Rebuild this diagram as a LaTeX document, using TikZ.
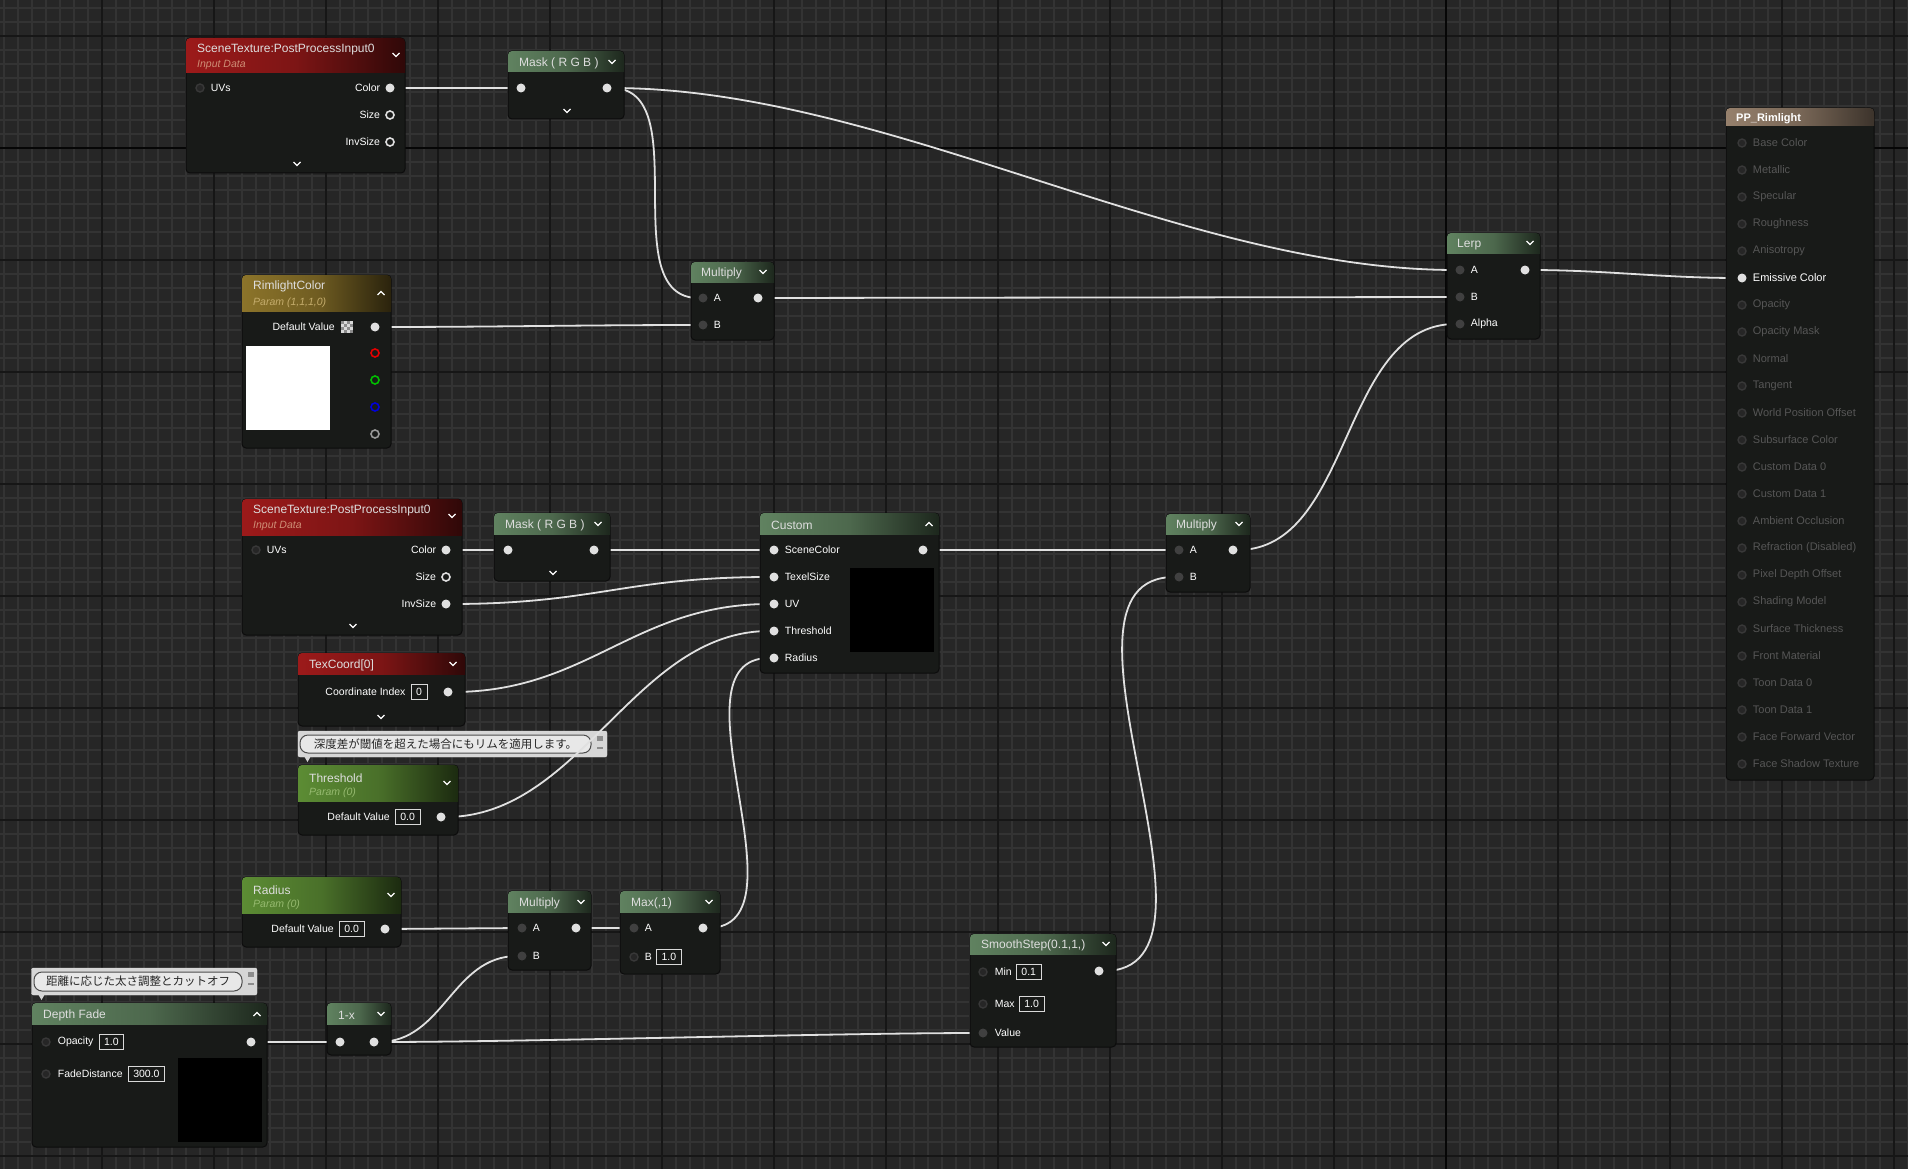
\documentclass[tikz,border=0pt]{standalone}
\usepackage{fontspec}
\setmainfont{Liberation Sans}
\newfontfamily\jpfont{Noto Sans CJK JP}
\usetikzlibrary{positioning}

\definecolor{bgcol}{RGB}{38,38,38}
\definecolor{minorcol}{RGB}{51,51,51}
\definecolor{majorcol}{RGB}{22,22,22}
\definecolor{axiscol}{RGB}{6,6,6}
\definecolor{bodycol}{RGB}{24,26,24}
\definecolor{edgecol}{RGB}{12,12,12}
\definecolor{wirecol}{RGB}{224,224,224}
\definecolor{redhead}{RGB}{156,26,26}
\definecolor{greenhead}{RGB}{96,130,96}
\definecolor{paramhead}{RGB}{92,140,52}
\definecolor{goldhead}{RGB}{140,116,42}
\definecolor{tanhead}{RGB}{150,128,108}
\definecolor{dimsock}{RGB}{64,64,64}
\definecolor{holesock}{RGB}{56,56,56}
\definecolor{ppgray}{RGB}{86,86,86}
\definecolor{titlecol}{RGB}{222,222,222}
\definecolor{inputcol}{RGB}{206,142,118}
\definecolor{goldsub}{RGB}{196,172,108}
\definecolor{greensub}{RGB}{150,186,112}
\definecolor{bubblecol}{RGB}{214,214,214}
\definecolor{pillcol}{RGB}{232,232,232}

\pgfdeclarelayer{grid}
\pgfdeclarelayer{notes}
\pgfdeclarelayer{wires}
\pgfsetlayers{grid,notes,wires,main}

% material node: name, x, y, width, height, header height, header colour
\newcommand{\uenode}[7]{%
  \node[nodebody, minimum width=#4pt, minimum height=#5pt] (#1) at ({#2+#4/2},{#3+#5/2}) {};
  \shade[left color=#7, right color=#7!30!black, middle color=#7!80!black, rounded corners=4pt] (#2,#3) rectangle ({#2+#4},{#3+#6});
  \shade[left color=#7, right color=#7!30!black, middle color=#7!80!black] (#2,{#3+#6/2}) rectangle ({#2+#4},{#3+#6});
}
\newcommand{\chevdown}[2]{\draw[chev] ({#1-3.5},{#2-2}) -- (#1,{#2+1.5}) -- ({#1+3.5},{#2-2});}
\newcommand{\chevup}[2]{\draw[chev] ({#1-3.5},{#2+2}) -- (#1,{#2-1.5}) -- ({#1+3.5},{#2+2});}

\begin{document}
\begin{tikzpicture}[x=1pt, y=-1pt,
    nodebody/.style={draw=edgecol, line width=1pt, fill=bodycol, rounded corners=4pt, inner sep=0pt},
    titletxt/.style={anchor=west, text=titlecol, font=\fontsize{12}{14}\selectfont, inner sep=0pt, yshift=-1.8pt},
    subtxt/.style={anchor=west, font=\fontsize{10.5}{12}\selectfont\itshape, inner sep=0pt, yshift=-1.8pt},
    rowtxt/.style={text=white, font=\fontsize{10.5}{12}\selectfont, inner sep=0pt},
    pptxt/.style={text=ppgray, font=\fontsize{11}{13}\selectfont, inner sep=0pt},
    sock/.style={circle, inner sep=0pt, minimum size=9pt},
    sockon/.style={sock, fill=wirecol},
    sockoff/.style={sock, draw=wirecol, line width=1.6pt, minimum size=8pt},
    sockdim/.style={sock, fill=dimsock},
    sockhole/.style={sock, draw=holesock, fill=black!85, line width=1.4pt, minimum size=8pt},
    valbox/.style={draw=white!85!black, line width=0.8pt, inner xsep=5pt, inner ysep=0pt, minimum height=15pt, text=white, font=\fontsize{10.5}{12}\selectfont},
    preview/.style={fill=black},
    chev/.style={draw=white, line width=1.2pt},
    wire/.style={draw=wirecol, line width=1.8pt},
    minorline/.style={draw=minorcol, line width=1.6pt},
    majorline/.style={draw=majorcol, line width=2pt},
    axisline/.style={draw=axiscol, line width=2.6pt},
    bubble/.style={fill=bubblecol, draw=white!90!black, rounded corners=2pt, inner sep=0pt},
    pill/.style={fill=pillcol, draw=black!70, line width=1pt, rounded corners=8pt, inner sep=0pt, text=black!85, font=\fontsize{11.5}{13}\jpfont}
]
\useasboundingbox (0,0) rectangle (1908,1169);

% grid
\begin{pgfonlayer}{grid}
\fill[bgcol] (0,0) rectangle (1908,1169);
\foreach \gx in {4,18,...,1908} \draw[minorline] (\gx,0) -- (\gx,1169);
\foreach \gy in {8,22,...,1169} \draw[minorline] (0,\gy) -- (1908,\gy);
\foreach \gx in {102,214,...,1908} \draw[majorline] (\gx,0) -- (\gx,1169);
\foreach \gy in {36,148,...,1169} \draw[majorline] (0,\gy) -- (1908,\gy);
\draw[axisline] (1446,0) -- (1446,1169);
\draw[axisline] (0,148) -- (1908,148);
\end{pgfonlayer}

% comments
\begin{pgfonlayer}{notes}
\node[bubble, minimum width=309pt, minimum height=26pt] (note1) at (452.5,744) {};
\node[pill, minimum width=291pt, minimum height=18pt] (note1-text) at (445.5,744) {深度差が閾値を超えた場合にもリムを適用します。};
\fill[bubblecol] (304,756) -- (311,756) -- (307.5,762) -- cycle;
\fill[black!45] (597,736) rectangle (603,741);
\fill[black!45] (597,747) rectangle (603,749);
\node[bubble, minimum width=225.5pt, minimum height=27pt] (note2) at (144.25,981.5) {};
\node[pill, minimum width=208pt, minimum height=19pt] (note2-text) at (138,981.5) {距離に応じた太さ調整とカットオフ};
\fill[bubblecol] (38,994) -- (45,994) -- (41.5,1000) -- cycle;
\fill[black!45] (248,972) rectangle (254,977);
\fill[black!45] (248,983) rectangle (254,985);
\end{pgfonlayer}

% top scene texture
\uenode{st1}{186}{38}{219}{135}{35}{redhead}
\node[titletxt] (st1-title) at (197,48) {SceneTexture:PostProcessInput0};
\node[subtxt, text=inputcol] (st1-sub) at (197,63) {Input Data};
\chevdown{396}{55}
\node[sockhole] (st1-uvs) at (200,88) {};
\node[rowtxt, right=6pt of st1-uvs] (st1-uvs-txt) {UVs};
\node[sockon] (st1-color) at (390,88) {};
\node[rowtxt, left=5pt of st1-color] (st1-color-txt) {Color};
\node[sockoff] (st1-size) at (390,115) {};
\node[rowtxt, left=5pt of st1-size] (st1-size-txt) {Size};
\node[sockoff] (st1-invsize) at (390,142) {};
\node[rowtxt, left=5pt of st1-invsize] (st1-invsize-txt) {InvSize};
\chevdown{297}{164}

% top mask
\uenode{mask1}{508}{51}{116}{68}{21}{greenhead}
\node[titletxt] (mask1-title) at (519,62) {Mask ( R G B )};
\chevdown{612}{62}
\node[sockon] (mask1-in) at (521,88) {};
\node[sockon] (mask1-out) at (607,88) {};
\chevdown{567}{111}

% rimlight colour
\uenode{rim}{242}{275}{149}{173}{36}{goldhead}
\node[titletxt] (rim-title) at (253,285) {RimlightColor};
\node[subtxt, text=goldsub] (rim-sub) at (253,301) {Param (1,1,1,0)};
\chevup{381}{293}
\node[sockon] (rim-out) at (375,327) {};
\node[rowtxt, anchor=east] (rim-txt) at (335,327) {Default Value};
\fill[white!85!black] (341,321) rectangle (353,333);
\foreach \cx/\cy in {0/0,2/0,1/1,3/1,0/2,2/2,1/3,3/3}
  \fill[black!45] ({341+3*\cx},{321+3*\cy}) rectangle ++(3,3);
\fill[white] (246,346) rectangle (330,430);
\node[sockoff, draw=red!90!black] (rim-r) at (375,353) {};
\node[sockoff, draw=green!75!black] (rim-g) at (375,380) {};
\node[sockoff, draw=blue!85!black] (rim-b) at (375,407) {};
\node[sockoff, draw=black!40] (rim-a) at (375,434) {};

% multiply rimlight
\uenode{mul1}{691}{262}{83}{78}{20}{greenhead}
\node[titletxt] (mul1-title) at (701,272) {Multiply};
\chevdown{763}{272}
\node[sockdim] (mul1-a) at (703,298) {};
\node[rowtxt, right=6pt of mul1-a] (mul1-a-txt) {A};
\node[sockdim] (mul1-b) at (703,325) {};
\node[rowtxt, right=6pt of mul1-b] (mul1-b-txt) {B};
\node[sockon] (mul1-out) at (758,298) {};

% lerp
\uenode{lerp}{1447}{233}{93}{106}{20}{greenhead}
\node[titletxt] (lerp-title) at (1457,243) {Lerp};
\chevdown{1530}{243}
\node[sockdim] (lerp-a) at (1460,270) {};
\node[rowtxt, right=6pt of lerp-a] (lerp-a-txt) {A};
\node[sockdim] (lerp-b) at (1460,297) {};
\node[rowtxt, right=6pt of lerp-b] (lerp-b-txt) {B};
\node[sockdim] (lerp-alpha) at (1460,324) {};
\node[rowtxt, right=6pt of lerp-alpha] (lerp-alpha-txt) {Alpha};
\node[sockon] (lerp-out) at (1525,270) {};

% material output
\node[nodebody, minimum width=148pt, minimum height=672pt] (pp) at (1800,444) {};
\shade[left color=tanhead, right color=tanhead!40!black, middle color=tanhead!80!black, rounded corners=4pt] (1726,108) rectangle (1874,126);
\shade[left color=tanhead, right color=tanhead!40!black, middle color=tanhead!80!black] (1726,117) rectangle (1874,126);
\node[titletxt, text=white, font=\fontsize{11}{13}\selectfont\bfseries] (pp-title) at (1736,117) {PP\_Rimlight};
\foreach \lbl [count=\i from 0] in {Base Color,Metallic,Specular,Roughness,Anisotropy,Emissive Color,Opacity,Opacity Mask,Normal,Tangent,World Position Offset,Subsurface Color,Custom Data 0,Custom Data 1,Ambient Occlusion,Refraction (Disabled),Pixel Depth Offset,Shading Model,Surface Thickness,Front Material,Toon Data 0,Toon Data 1,Face Forward Vector,Face Shadow Texture}{
  \ifnum\i=5
    \node[sockon] (pp-\i) at (1742,{143+27*\i}) {};
    \node[pptxt, text=white, right=6pt of pp-\i] (pp-\i-txt) {\lbl};
  \else
    \node[sockhole] (pp-\i) at (1742,{143+27*\i}) {};
    \node[pptxt, right=6pt of pp-\i] (pp-\i-txt) {\lbl};
  \fi
}

% lower scene texture
\uenode{st2}{242}{499}{220}{136}{36}{redhead}
\node[titletxt] (st2-title) at (253,509) {SceneTexture:PostProcessInput0};
\node[subtxt, text=inputcol] (st2-sub) at (253,524) {Input Data};
\chevdown{452}{516}
\node[sockhole] (st2-uvs) at (256,550) {};
\node[rowtxt, right=6pt of st2-uvs] (st2-uvs-txt) {UVs};
\node[sockon] (st2-color) at (446,550) {};
\node[rowtxt, left=5pt of st2-color] (st2-color-txt) {Color};
\node[sockoff] (st2-size) at (446,577) {};
\node[rowtxt, left=5pt of st2-size] (st2-size-txt) {Size};
\node[sockon] (st2-invsize) at (446,604) {};
\node[rowtxt, left=5pt of st2-invsize] (st2-invsize-txt) {InvSize};
\chevdown{353}{626}

% lower mask
\uenode{mask2}{494}{513}{116}{68}{21}{greenhead}
\node[titletxt] (mask2-title) at (505,524) {Mask ( R G B )};
\chevdown{598}{524}
\node[sockon] (mask2-in) at (508,550) {};
\node[sockon] (mask2-out) at (594,550) {};
\chevdown{553}{573}

% custom
\uenode{cus}{760}{513}{179}{160}{21}{greenhead}
\node[titletxt] (cus-title) at (771,524) {Custom};
\chevup{929}{524}
\node[sockon] (cus-scene) at (774,550) {};
\node[rowtxt, right=6pt of cus-scene] (cus-scene-txt) {SceneColor};
\node[sockon] (cus-texel) at (774,577) {};
\node[rowtxt, right=6pt of cus-texel] (cus-texel-txt) {TexelSize};
\node[sockon] (cus-uv) at (774,604) {};
\node[rowtxt, right=6pt of cus-uv] (cus-uv-txt) {UV};
\node[sockon] (cus-thr) at (774,631) {};
\node[rowtxt, right=6pt of cus-thr] (cus-thr-txt) {Threshold};
\node[sockon] (cus-rad) at (774,658) {};
\node[rowtxt, right=6pt of cus-rad] (cus-rad-txt) {Radius};
\node[sockon] (cus-out) at (923,550) {};
\fill[preview] (850,568) rectangle (934,652);

% texcoord
\uenode{tc}{298}{653}{167}{73}{21}{redhead}
\node[titletxt] (tc-title) at (309,664) {TexCoord[0]};
\chevdown{453}{664}
\node[sockon] (tc-out) at (448,692) {};
\node[valbox, left=16pt of tc-out] (tc-val) {0};
\node[rowtxt, left=5pt of tc-val] (tc-txt) {Coordinate Index};
\chevdown{381}{717}

% threshold
\uenode{thr}{298}{765}{160}{70}{36}{paramhead}
\node[titletxt] (thr-title) at (309,776) {Threshold};
\node[subtxt, text=greensub] (thr-sub) at (309,791) {Param (0)};
\chevdown{447}{783}
\node[sockon] (thr-out) at (441,817) {};
\node[valbox, left=16pt of thr-out] (thr-val) {0.0};
\node[rowtxt, left=5pt of thr-val] (thr-txt) {Default Value};

% multiply depth
\uenode{mul3}{1166}{514}{84}{78}{20}{greenhead}
\node[titletxt] (mul3-title) at (1176,524) {Multiply};
\chevdown{1239}{524}
\node[sockdim] (mul3-a) at (1179,550) {};
\node[rowtxt, right=6pt of mul3-a] (mul3-a-txt) {A};
\node[sockdim] (mul3-b) at (1179,577) {};
\node[rowtxt, right=6pt of mul3-b] (mul3-b-txt) {B};
\node[sockon] (mul3-out) at (1233,550) {};

% radius
\uenode{rad}{242}{877}{159}{70}{36}{paramhead}
\node[titletxt] (rad-title) at (253,888) {Radius};
\node[subtxt, text=greensub] (rad-sub) at (253,903) {Param (0)};
\chevdown{391}{895}
\node[sockon] (rad-out) at (385,929) {};
\node[valbox, left=16pt of rad-out] (rad-val) {0.0};
\node[rowtxt, left=5pt of rad-val] (rad-txt) {Default Value};

% multiply radius
\uenode{mul2}{508}{891}{83}{79}{21}{greenhead}
\node[titletxt] (mul2-title) at (519,902) {Multiply};
\chevdown{581}{902}
\node[sockdim] (mul2-a) at (522,928) {};
\node[rowtxt, right=6pt of mul2-a] (mul2-a-txt) {A};
\node[sockdim] (mul2-b) at (522,956) {};
\node[rowtxt, right=6pt of mul2-b] (mul2-b-txt) {B};
\node[sockon] (mul2-out) at (576,928) {};

% max
\uenode{max}{620}{891}{100}{83}{21}{greenhead}
\node[titletxt] (max-title) at (631,902) {Max(,1)};
\chevdown{709}{902}
\node[sockdim] (max-a) at (634,928) {};
\node[rowtxt, right=6pt of max-a] (max-a-txt) {A};
\node[sockhole] (max-b) at (634,957) {};
\node[rowtxt, right=6pt of max-b] (max-b-txt) {B};
\node[valbox, right=4pt of max-b-txt] (max-b-val) {1.0};
\node[sockon] (max-out) at (703,928) {};

% depth fade
\uenode{df}{32}{1003}{235}{144}{21}{greenhead}
\node[titletxt] (df-title) at (43,1014) {Depth Fade};
\chevup{257}{1014}
\node[sockhole] (df-op) at (46,1042) {};
\node[rowtxt, right=7pt of df-op] (df-op-txt) {Opacity};
\node[valbox, right=5pt of df-op-txt] (df-op-val) {1.0};
\node[sockhole] (df-fd) at (46,1074) {};
\node[rowtxt, right=7pt of df-fd] (df-fd-txt) {FadeDistance};
\node[valbox, right=5pt of df-fd-txt] (df-fd-val) {300.0};
\node[sockon] (df-out) at (251,1042) {};
\fill[preview] (178,1058) rectangle (262,1142);

% one minus
\uenode{onex}{327}{1003}{64}{52}{21}{greenhead}
\node[titletxt] (onex-title) at (338,1014) {1-x};
\chevdown{381}{1014}
\node[sockon] (onex-in) at (340,1042) {};
\node[sockon] (onex-out) at (374,1042) {};

% smoothstep
\uenode{ss}{970}{934}{146}{113}{20}{greenhead}
\node[titletxt] (ss-title) at (981,944) {SmoothStep(0.1,1,)};
\chevdown{1106}{944}
\node[sockhole] (ss-min) at (983,972) {};
\node[rowtxt, right=7pt of ss-min] (ss-min-txt) {Min};
\node[valbox, right=4pt of ss-min-txt] (ss-min-val) {0.1};
\node[sockhole] (ss-max) at (983,1004) {};
\node[rowtxt, right=7pt of ss-max] (ss-max-txt) {Max};
\node[valbox, right=4pt of ss-max-txt] (ss-max-val) {1.0};
\node[sockdim] (ss-value) at (983,1033) {};
\node[rowtxt, right=7pt of ss-value] (ss-value-txt) {Value};
\node[sockon] (ss-out) at (1099,971) {};

% wires
\begin{pgfonlayer}{wires}
\draw[wire] (st1-color) -- (mask1-in);
\draw[wire] (mask1-out) .. controls +(280,0) and +(-280,0) .. (lerp-a);
\draw[wire] (mask1-out) .. controls +(90,0) and +(-90,0) .. (mul1-a);
\draw[wire] (rim-out) .. controls +(120,0) and +(-120,0) .. (mul1-b);
\draw[wire] (mul1-out) -- (lerp-b);
\draw[wire] (lerp-out) .. controls +(80,0) and +(-80,0) .. (pp-5);
\draw[wire] (st2-color) -- (mask2-in);
\draw[wire] (mask2-out) -- (cus-scene);
\draw[wire] (st2-invsize) .. controls +(150,0) and +(-150,0) .. (cus-texel);
\draw[wire] (tc-out) .. controls +(140,0) and +(-140,0) .. (cus-uv);
\draw[wire] (thr-out) .. controls +(140,0) and +(-140,0) .. (cus-thr);
\draw[wire] (max-out) .. controls +(110,0) and +(-110,0) .. (cus-rad);
\draw[wire] (cus-out) -- (mul3-a);
\draw[wire] (ss-out) .. controls +(150,0) and +(-150,0) .. (mul3-b);
\draw[wire] (mul3-out) .. controls +(120,0) and +(-120,0) .. (lerp-alpha);
\draw[wire] (rad-out) -- (mul2-a);
\draw[wire] (mul2-out) -- (max-a);
\draw[wire] (df-out) -- (onex-in);
\draw[wire] (onex-out) .. controls +(70,0) and +(-70,0) .. (mul2-b);
\draw[wire] (onex-out) .. controls +(150,0) and +(-150,0) .. (ss-value);
\end{pgfonlayer}
\end{tikzpicture}
\end{document}
